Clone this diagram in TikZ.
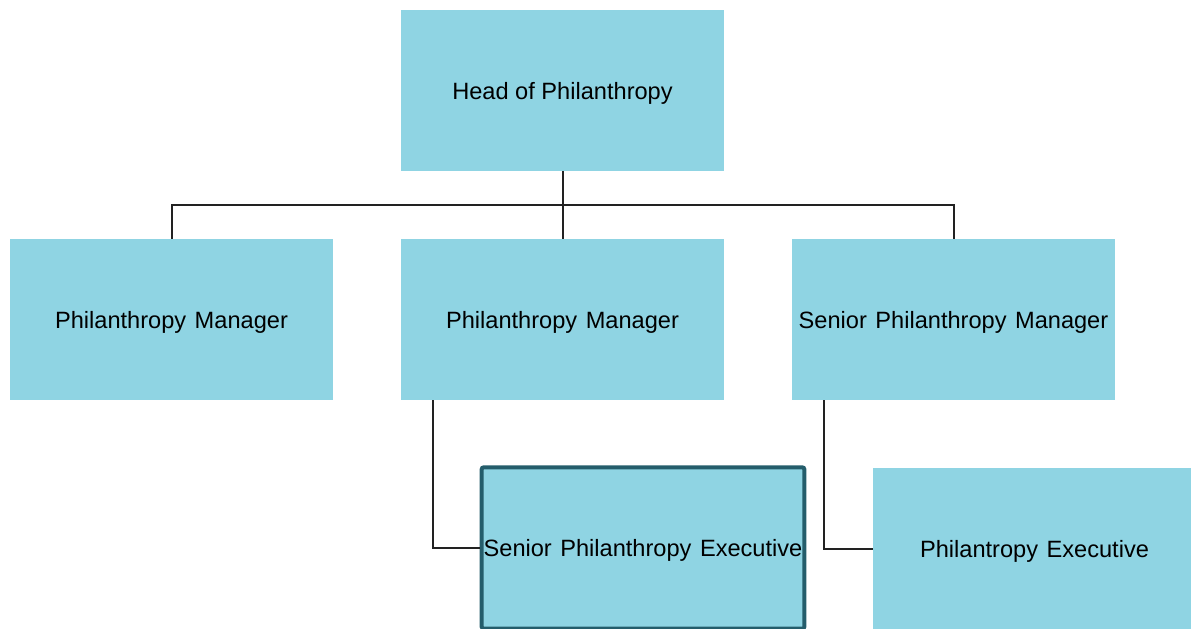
\documentclass[tikz,border=0pt]{standalone}
\usepackage{fontspec}
\setmainfont{Liberation Sans}
\usetikzlibrary{calc}
\definecolor{boxfill}{RGB}{143,212,227}
\definecolor{selborder}{RGB}{36,93,107}
\definecolor{linkgray}{RGB}{34,34,34}
\newcommand{\wgap}{\hspace{0.36em}}
\tikzset{
    role/.style={fill=boxfill,minimum width=242pt,minimum height=121pt,inner sep=0pt,text depth=0pt,font=\fontsize{17.7}{21}\selectfont},
    picked/.style={role,draw=selborder,line width=3pt,rounded corners=1.5pt},
    link/.style={draw=linkgray,line width=1.5pt}
}

\begin{document}
\begin{tikzpicture}[x=0.75pt,y=-0.75pt]
                \clip(0,0)rectangle(1191,628);
                \node[role](head)at(562.5,90.5){Head of Philanthropy};
                \node[role](m1)at(171.5,319.5){Philanthropy\wgap Manager};
                \node[role](m2)at(562.5,319.5){Philanthropy\wgap Manager};
                \node[role](m3)at(953.5,319.5){Senior\wgap Philanthropy\wgap Manager};
                \node[picked](se)at(643,548){Senior\wgap Philanthropy\wgap Executive};
                \node[role](pe)at(1034.5,549){Philantropy\wgap Executive};
                \coordinate(bus)at($(head.south)!0.5!(m2.north)$);
                \draw[link](head.south)--(m2.north);
                \draw[link](m1.north)|-(bus)-|(m3.north);
                \draw[link]([xshift=24pt]m2.south west)|-(se.west);
                \draw[link]([xshift=24pt]m3.south west)|-(pe.west);
            \end{tikzpicture}
\end{document}
